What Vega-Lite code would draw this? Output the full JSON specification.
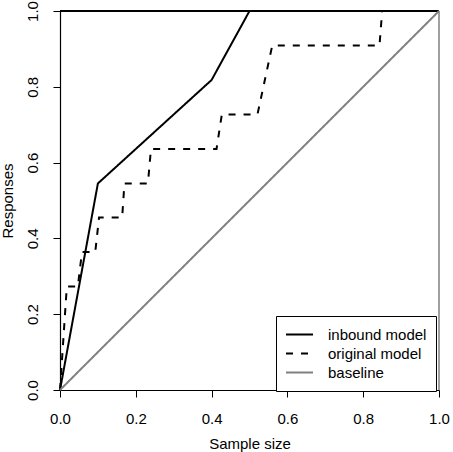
{
  "$schema": "https://vega.github.io/schema/vega-lite/v6.json",
  "width": 379,
  "height": 379,
  "autosize": {"type": "none"},
  "padding": {"left": 60, "top": 11, "right": 14, "bottom": 62},
  "background": "white",
  "config": {
    "view": {"stroke": null},
    "font": "Liberation Sans",
    "axis": {
      "grid": false,
      "domainColor": "black",
      "tickColor": "black",
      "tickSize": 7,
      "labelColor": "black",
      "labelFont": "Liberation Sans",
      "labelFontSize": 15,
      "titleFont": "Liberation Sans",
      "titleFontSize": 15,
      "titleFontWeight": "normal",
      "titleColor": "black",
      "labelFlush": false,
      "labelOverlap": false
    }
  },
  "data": {
    "values": [
      {"series": "inbound model", "k": 0, "x": 0, "y": 0},
      {"series": "inbound model", "k": 1, "x": 0.1, "y": 0.545},
      {"series": "inbound model", "k": 2, "x": 0.4, "y": 0.818},
      {"series": "inbound model", "k": 3, "x": 0.5, "y": 1.0},
      {"series": "inbound model", "k": 4, "x": 1.0, "y": 1.0},
      {"series": "original model", "k": 0, "x": 0, "y": 0},
      {"series": "original model", "k": 1, "x": 0.018, "y": 0.273},
      {"series": "original model", "k": 2, "x": 0.047, "y": 0.273},
      {"series": "original model", "k": 3, "x": 0.058, "y": 0.364},
      {"series": "original model", "k": 4, "x": 0.093, "y": 0.364},
      {"series": "original model", "k": 5, "x": 0.103, "y": 0.455},
      {"series": "original model", "k": 6, "x": 0.164, "y": 0.455},
      {"series": "original model", "k": 7, "x": 0.17, "y": 0.545},
      {"series": "original model", "k": 8, "x": 0.232, "y": 0.545},
      {"series": "original model", "k": 9, "x": 0.24, "y": 0.636},
      {"series": "original model", "k": 10, "x": 0.413, "y": 0.636},
      {"series": "original model", "k": 11, "x": 0.427, "y": 0.727},
      {"series": "original model", "k": 12, "x": 0.521, "y": 0.727},
      {"series": "original model", "k": 13, "x": 0.56, "y": 0.909},
      {"series": "original model", "k": 14, "x": 0.843, "y": 0.909},
      {"series": "original model", "k": 15, "x": 0.85, "y": 1.0},
      {"series": "original model", "k": 16, "x": 1.0, "y": 1.0},
      {"series": "baseline", "k": 0, "x": 0, "y": 0},
      {"series": "baseline", "k": 1, "x": 1.0, "y": 1.0}
    ]
  },
  "layer": [
    {
      "data": {"values": [{"x": 0, "x2": 1, "y": 1, "y2": 1}]},
      "mark": {"type": "rule", "color": "black", "strokeWidth": 2},
      "encoding": {
        "x": {"field": "x", "type": "quantitative", "scale": {"domain": [0, 1]}},
        "x2": {"field": "x2"},
        "y": {"field": "y", "type": "quantitative", "scale": {"domain": [0, 1]}},
        "y2": {"field": "y2"}
      }
    },
    {
      "data": {"values": [{"x": 1, "x2": 1, "y": 0, "y2": 1}]},
      "mark": {"type": "rule", "color": "#808080", "strokeWidth": 1.5},
      "encoding": {
        "x": {"field": "x", "type": "quantitative"},
        "x2": {"field": "x2"},
        "y": {"field": "y", "type": "quantitative"},
        "y2": {"field": "y2"}
      }
    },
    {
      "mark": {"type": "line", "strokeCap": "butt", "clip": false},
      "encoding": {
        "x": {
          "field": "x", "type": "quantitative",
          "scale": {"domain": [0, 1], "nice": false, "zero": false},
          "axis": {"title": "Sample size", "values": [0, 0.2, 0.4, 0.6, 0.8, 1.0], "format": ".1f", "labelPadding": 14, "titlePadding": 10, "domainWidth": 1.2}
        },
        "y": {
          "field": "y", "type": "quantitative",
          "scale": {"domain": [0, 1], "nice": false, "zero": false},
          "axis": {"title": "Responses", "values": [0, 0.2, 0.4, 0.6, 0.8, 1.0], "format": ".1f", "labelAngle": -90, "labelAlign": "center", "labelBaseline": "bottom", "labelPadding": 13, "titlePadding": 10, "domainWidth": 1.2}
        },
        "order": {"field": "k", "type": "quantitative"},
        "color": {
          "field": "series", "type": "nominal",
          "scale": {"domain": ["inbound model", "original model", "baseline"], "range": ["black", "black", "#808080"]},
          "legend": {
            "title": null,
            "orient": "none",
            "legendX": 216,
            "legendY": 305,
            "strokeColor": "black",
            "fillColor": "white",
            "padding": 9,
            "cornerRadius": 0,
            "symbolType": "stroke",
            "symbolSize": 729,
            "symbolStrokeWidth": 2,
            "clipHeight": 19,
            "rowPadding": 0,
            "labelFont": "Liberation Sans",
            "labelFontSize": 15,
            "labelColor": "black",
            "labelOffset": 14
          }
        },
        "strokeDash": {
          "field": "series", "type": "nominal",
          "scale": {"domain": ["inbound model", "original model", "baseline"], "range": [[1, 0], [7, 8], [1, 0]]},
          "legend": {
            "title": null,
            "orient": "none",
            "legendX": 216,
            "legendY": 305,
            "strokeColor": "black",
            "fillColor": "white",
            "padding": 9,
            "cornerRadius": 0,
            "symbolType": "stroke",
            "symbolSize": 729,
            "symbolStrokeWidth": 2,
            "clipHeight": 19,
            "rowPadding": 0,
            "labelFont": "Liberation Sans",
            "labelFontSize": 15,
            "labelColor": "black",
            "labelOffset": 14
          }
        },
        "strokeWidth": {
          "field": "series", "type": "nominal",
          "scale": {"domain": ["inbound model", "original model", "baseline"], "range": [2, 2, 1.5]},
          "legend": null
        }
      }
    }
  ]
}
